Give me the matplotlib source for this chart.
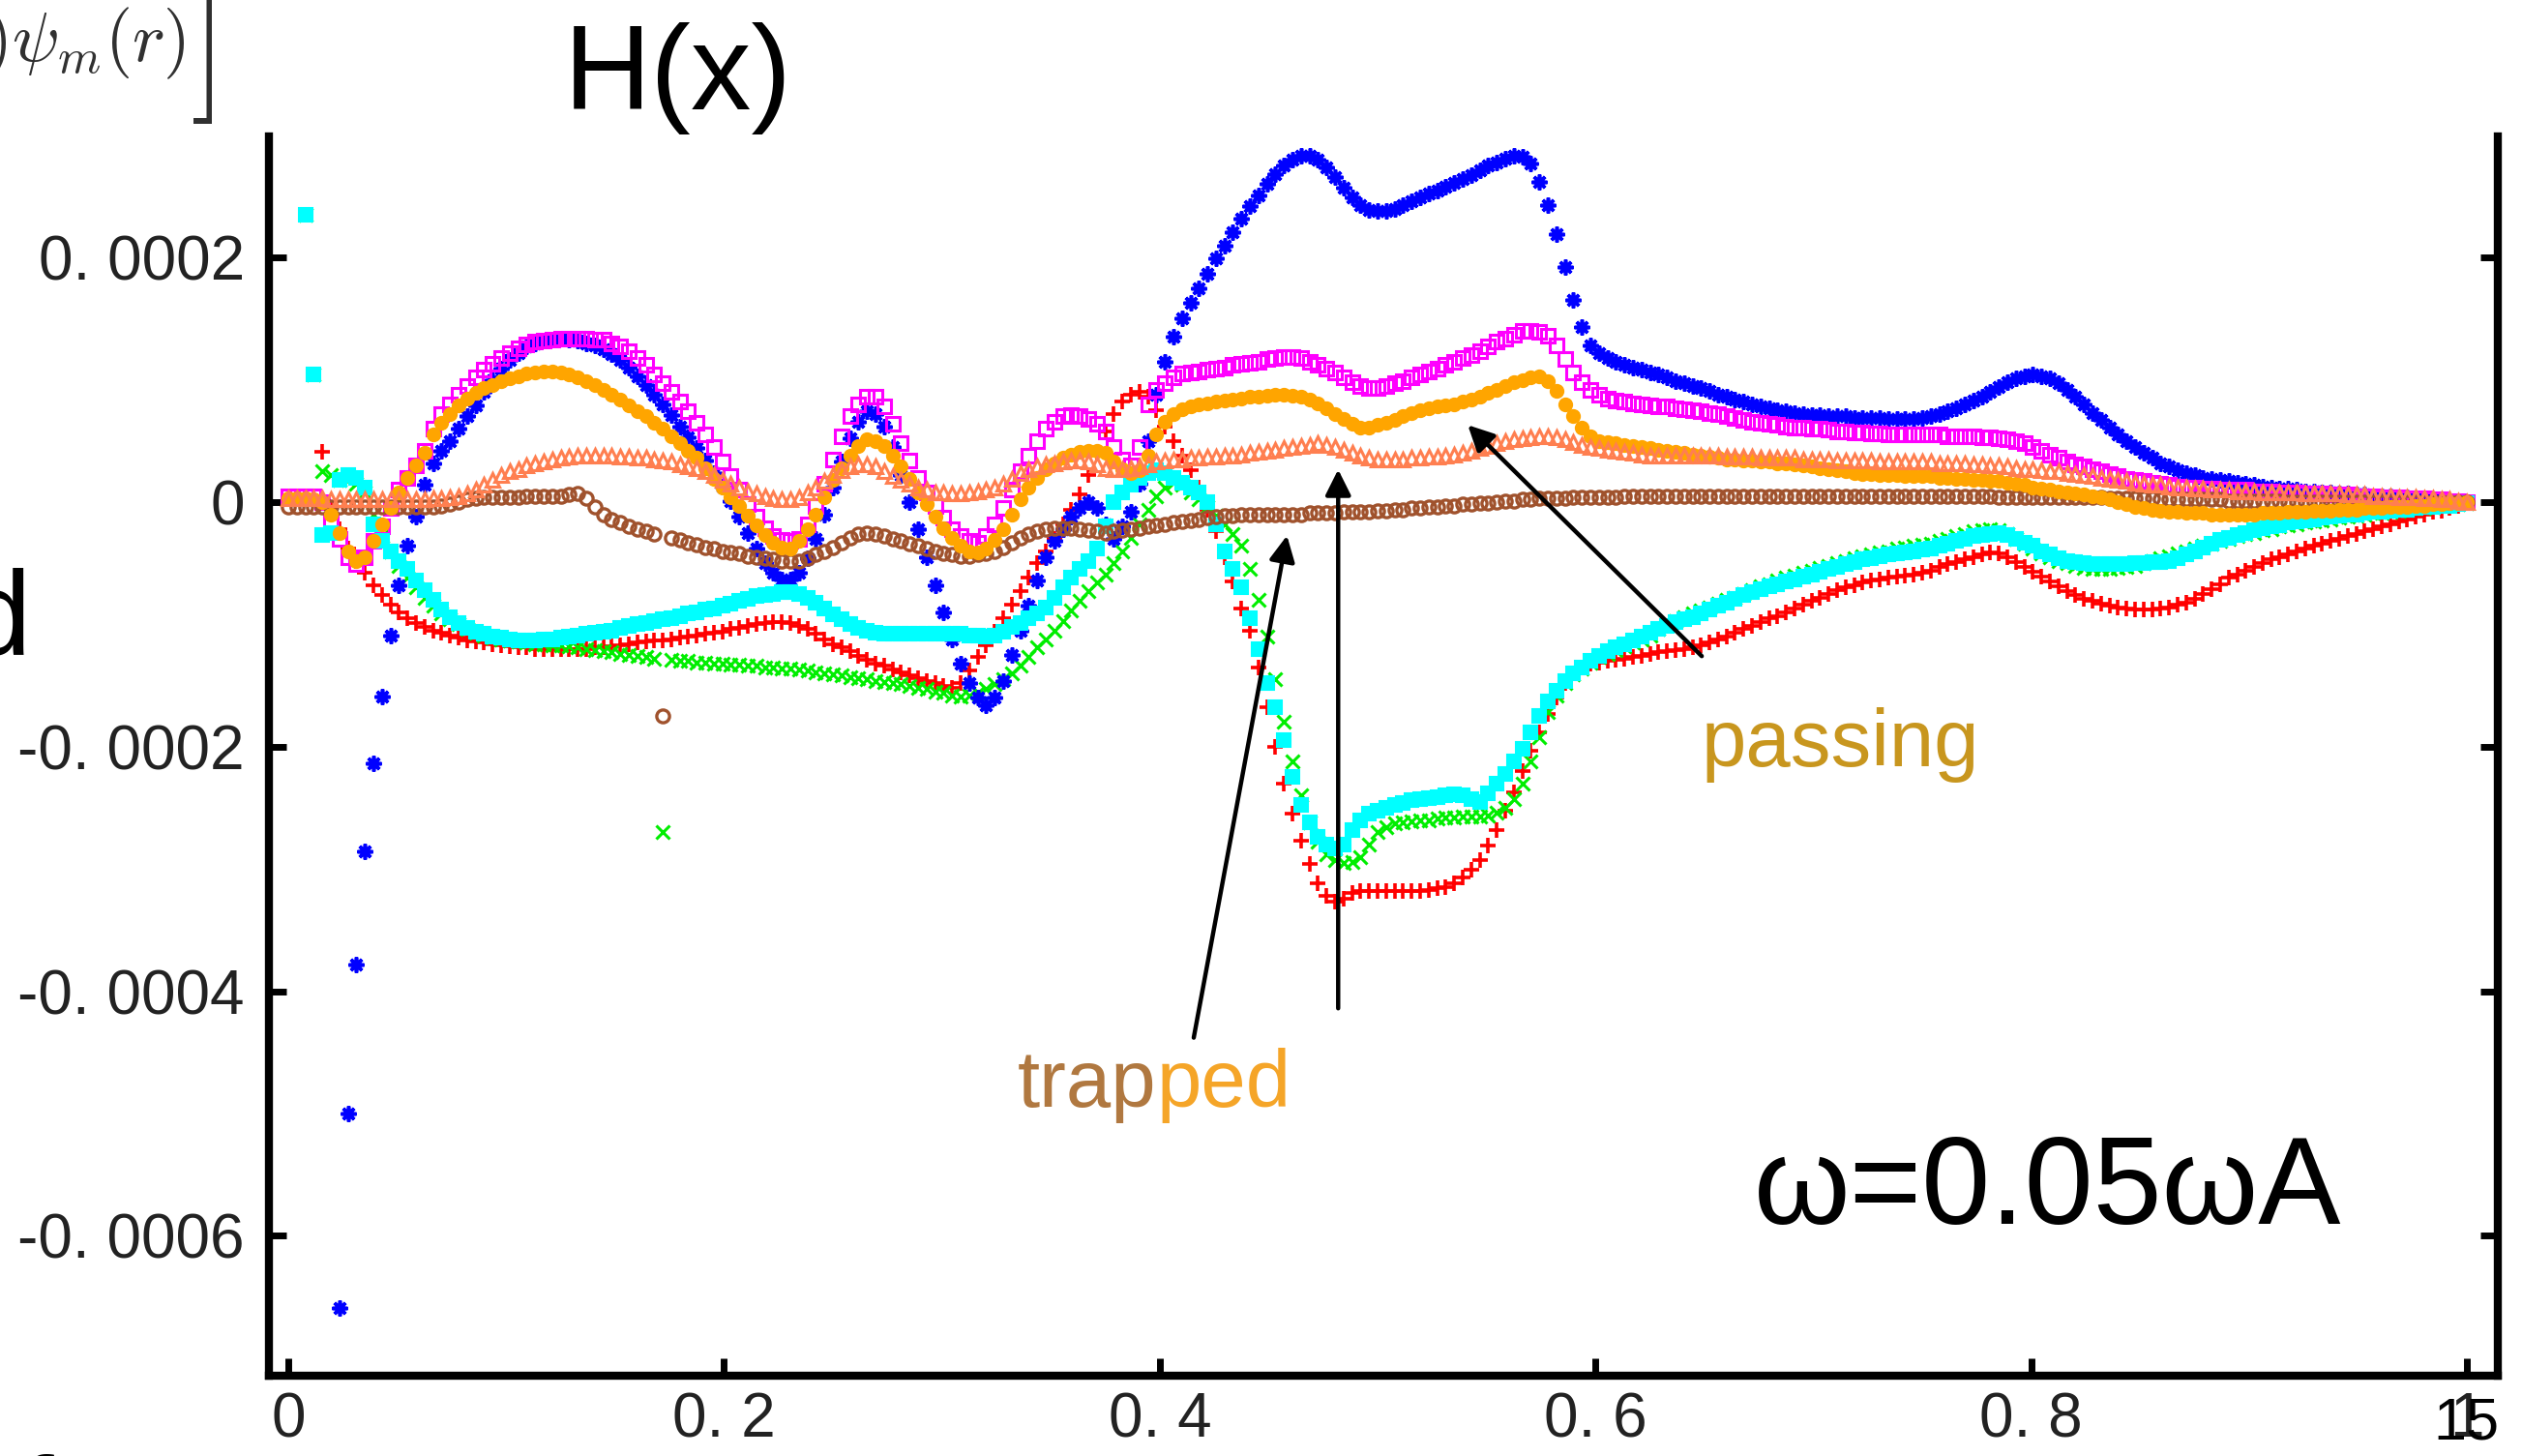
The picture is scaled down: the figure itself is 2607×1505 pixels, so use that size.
import numpy as np
import matplotlib
matplotlib.use("Agg")
import matplotlib.pyplot as plt

plt.rcParams['mathtext.fontset'] = 'cm'

W, H = 2607, 1505

# radial grid of the data file (257 points from 0 to 1)
x_pos = np.arange(257) / 256

# H(x) for each run, in units of 1e-6 (one row = 16 points, first value is x=0)
h_red = [500,
    400, 235, 104, 41, -5, -22, -38, -48, -58, -68, -76, -84, -90, -95, -99, -102,
    -105, -107, -109, -111, -113, -114, -115, -116, -117, -118, -119, -119, -120, -120, -120, -120,
    -120, -120, -120, -119, -119, -118, -117, -116, -115, -114, -113, -113, -112, -111, -110, -109,
    -108, -107, -106, -104, -103, -101, -100, -99, -98, -98, -99, -101, -104, -108, -112, -116,
    -119, -122, -126, -129, -132, -134, -137, -139, -142, -144, -146, -148, -150, -152, -148, -138,
    -127, -117, -106, -95, -84, -73, -62, -50, -40, -30, -18, -6, 6, 22, 40, 58,
    72, 82, 88, 90, 86, 75, 62, 50, 38, 26, 12, -6, -24, -45, -65, -87,
    -105, -135, -168, -200, -230, -255, -277, -296, -312, -322, -327, -324, -320, -318, -318, -318,
    -318, -318, -318, -318, -318, -317, -316, -315, -312, -307, -301, -293, -281, -268, -252, -237,
    -220, -203, -188, -173, -160, -148, -140, -135, -132, -131, -130, -129, -128, -127, -126, -124,
    -123, -122, -121, -120, -119, -117, -115, -112, -110, -107, -104, -101, -98, -95, -93, -90,
    -87, -84, -81, -78, -75, -72, -70, -68, -66, -64, -63, -62, -61, -60, -59, -58,
    -56, -53, -51, -49, -47, -45, -43, -41, -42, -45, -49, -53, -57, -61, -65, -69,
    -73, -76, -79, -81, -83, -85, -86, -87, -88, -88, -88, -87, -86, -84, -82, -79,
    -75, -71, -67, -62, -59, -56, -53, -50, -47, -45, -43, -40, -38, -36, -34, -32,
    -30, -28, -26, -24, -22, -20, -18, -16, -14, -12, -10, -8, -7, -5, -3, -1]

h_green = [500,
    400, 235, 104, 25, 22, 18, 18, 15, 8, -10, -28, -40, -52, -62, -70, -78,
    -85, -91, -96, -100, -104, -107, -109, -111, -112, -113, -114, -115, -116, -116, -117, -117,
    -118, -119, -120, -121, -122, -123, -124, -125, -126, -127, -128, -270, -129, -130, -130, -131,
    -131, -132, -132, -133, -133, -134, -134, -135, -135, -136, -136, -137, -138, -139, -140, -141,
    -142, -143, -144, -145, -146, -147, -148, -149, -150, -152, -153, -155, -156, -158, -159, -158,
    -156, -153, -149, -145, -140, -134, -127, -119, -112, -105, -97, -89, -81, -73, -66, -59,
    -50, -40, -29, -18, -6, 5, 12, 16, 14, 8, 2, -4, -11, -18, -26, -36,
    -55, -80, -110, -145, -180, -212, -240, -262, -278, -288, -293, -295, -294, -290, -280, -270,
    -266, -263, -262, -261, -260, -260, -259, -258, -258, -257, -257, -257, -256, -254, -250, -243,
    -230, -212, -192, -172, -158, -148, -141, -136, -131, -127, -124, -121, -118, -115, -112, -109,
    -104, -100, -97, -94, -91, -89, -86, -83, -80, -78, -75, -72, -69, -67, -64, -62,
    -60, -58, -56, -54, -52, -50, -48, -46, -44, -43, -41, -40, -38, -37, -36, -35,
    -34, -32, -30, -28, -26, -24, -23, -22, -23, -26, -30, -34, -38, -42, -45, -48,
    -50, -52, -54, -55, -55, -55, -54, -53, -52, -50, -48, -46, -44, -42, -40, -38,
    -36, -34, -32, -30, -28, -26, -25, -23, -22, -20, -19, -18, -17, -16, -15, -14,
    -13, -12, -11, -10, -9, -9, -8, -7, -6, -5, -5, -4, -3, -2, -2, -1]

h_blue = [-2000,
    -1600, -1350, -1150, -980, -800, -659, -500, -378, -286, -214, -159, -109, -68, -36, -12, 14,
    32, 42, 50, 60, 70, 79, 90, 100, 109, 116, 122, 127, 130, 132, 133, 134,
    133, 132, 130, 128, 125, 121, 116, 110, 103, 96, 88, 80, 71, 62, 53, 44,
    34, 24, 13, 1, -12, -25, -38, -50, -58, -63, -63, -58, -46, -30, -10, 12,
    33, 52, 66, 74, 72, 62, 45, 22, 0, -22, -45, -68, -90, -112, -132, -148,
    -160, -166, -160, -146, -125, -105, -85, -64, -45, -32, -22, -12, -5, 0, -5, -18,
    -30, -20, -8, 15, 50, 88, 115, 135, 150, 163, 175, 187, 199, 210, 221, 232,
    242, 251, 260, 268, 275, 280, 283, 283, 280, 274, 266, 257, 249, 243, 239, 238,
    238, 240, 243, 246, 249, 252, 255, 258, 261, 264, 267, 271, 275, 278, 281, 283,
    282, 277, 262, 243, 219, 192, 165, 143, 128, 122, 118, 115, 112, 110, 108, 106,
    104, 102, 99, 97, 95, 93, 91, 88, 86, 84, 82, 80, 78, 77, 75, 74,
    73, 72, 71, 71, 70, 70, 70, 69, 69, 69, 69, 68, 68, 68, 68, 69,
    70, 72, 74, 77, 80, 83, 86, 90, 94, 98, 101, 103, 104, 103, 101, 97,
    92, 86, 80, 73, 67, 61, 55, 50, 45, 40, 36, 32, 29, 26, 24, 22,
    20, 19, 18, 17, 16, 15, 14, 13, 12, 11, 11, 10, 9, 9, 8, 8,
    7, 7, 6, 6, 5, 5, 5, 4, 4, 3, 3, 2, 2, 1, 1, 0]

h_magenta = [5,
    5, 5, 5, 0, -15, -30, -45, -51, -45, -32, -20, -5, 10, 20, 30, 42,
    60, 72, 80, 88, 95, 102, 108, 113, 118, 122, 126, 129, 131, 132, 133, 134,
    134, 134, 134, 133, 133, 130, 127, 123, 118, 112, 104, 97, 90, 82, 74, 65,
    55, 45, 33, 21, 10, -2, -12, -21, -28, -31, -32, -30, -18, -3, 15, 35,
    54, 70, 80, 86, 86, 78, 64, 48, 34, 20, 8, -3, -13, -22, -28, -32,
    -33, -28, -18, -5, 10, 25, 38, 50, 60, 66, 70, 71, 70, 68, 64, 58,
    45, 35, 30, 45, 80, 92, 97, 102, 105, 106, 107, 108, 109, 110, 112, 113,
    114, 115, 117, 118, 119, 119, 118, 115, 112, 109, 106, 102, 98, 95, 93, 93,
    95, 97, 99, 102, 104, 107, 109, 112, 115, 118, 120, 123, 127, 131, 134, 137,
    140, 140, 139, 136, 128, 117, 106, 98, 92, 88, 85, 83, 82, 81, 80, 79,
    78, 78, 77, 76, 75, 74, 73, 72, 70, 69, 67, 66, 65, 64, 63, 62,
    61, 61, 60, 60, 59, 58, 58, 57, 57, 56, 56, 55, 55, 55, 55, 55,
    55, 55, 54, 54, 54, 54, 53, 53, 52, 51, 50, 48, 45, 42, 39, 36,
    33, 31, 29, 27, 25, 23, 21, 19, 18, 17, 16, 15, 14, 13, 12, 12,
    11, 11, 10, 10, 10, 10, 9, 9, 9, 8, 8, 8, 7, 7, 7, 6,
    6, 6, 5, 5, 5, 4, 4, 4, 3, 3, 3, 2, 2, 1, 1, 0]

h_cyan = [500,
    400, 235, 104, -27, -25, 18, 22, 20, 12, -18, -32, -40, -48, -55, -64, -72,
    -80, -88, -94, -99, -103, -106, -108, -110, -111, -112, -113, -113, -113, -112, -112, -111,
    -110, -109, -108, -107, -106, -105, -103, -101, -100, -99, -97, -96, -95, -93, -91, -90,
    -88, -87, -85, -83, -81, -79, -77, -76, -75, -74, -74, -75, -78, -82, -87, -92,
    -96, -100, -103, -105, -107, -108, -108, -108, -108, -108, -108, -108, -108, -108, -108, -109,
    -109, -110, -109, -106, -102, -99, -95, -91, -86, -78, -70, -62, -55, -48, -38, -20,
    0, 8, 14, 20, 24, 26, 24, 20, 16, 12, 8, 0, -18, -40, -55, -70,
    -95, -120, -148, -168, -195, -225, -248, -262, -274, -280, -283, -280, -268, -260, -255, -252,
    -250, -248, -246, -244, -243, -242, -241, -240, -239, -240, -243, -245, -238, -230, -222, -212,
    -202, -188, -175, -163, -154, -146, -140, -135, -130, -126, -122, -119, -116, -113, -110, -107,
    -104, -101, -98, -96, -94, -91, -88, -85, -82, -79, -76, -74, -71, -69, -67, -65,
    -63, -61, -59, -57, -55, -53, -51, -49, -47, -46, -44, -43, -42, -41, -40, -39,
    -38, -36, -34, -32, -30, -28, -27, -26, -25, -27, -30, -33, -36, -40, -43, -46,
    -48, -49, -50, -51, -51, -51, -51, -51, -50, -50, -49, -49, -48, -46, -43, -40,
    -37, -34, -31, -29, -27, -25, -23, -21, -20, -19, -17, -16, -15, -14, -13, -12,
    -11, -10, -10, -9, -8, -8, -7, -6, -6, -5, -4, -4, -3, -3, -2, -1]

h_sienna = [-4,
    -4, -4, -4, -4, -4, -4, -4, -4, -4, -4, -4, -4, -4, -4, -4, -4,
    -4, -3, -2, 0, 2, 3, 4, 4, 4, 4, 4, 5, 5, 5, 5, 5,
    6, 7, 3, -4, -10, -14, -17, -20, -22, -24, -26, -175, -29, -31, -33, -35,
    -37, -38, -40, -41, -42, -44, -45, -46, -47, -48, -48, -48, -46, -43, -40, -37,
    -33, -29, -26, -25, -26, -28, -30, -32, -34, -36, -38, -40, -42, -43, -44, -44,
    -43, -42, -40, -37, -33, -29, -26, -24, -22, -21, -21, -21, -22, -23, -24, -25,
    -24, -23, -22, -21, -20, -19, -18, -17, -16, -15, -14, -13, -12, -11, -11, -10,
    -10, -10, -10, -10, -10, -10, -10, -9, -9, -9, -9, -8, -8, -8, -8, -7,
    -7, -6, -6, -5, -5, -4, -4, -3, -3, -2, -2, -1, -1, 0, 1, 1,
    2, 2, 3, 3, 3, 3, 4, 4, 4, 4, 4, 4, 5, 5, 5, 5,
    5, 5, 5, 5, 5, 5, 5, 5, 5, 5, 5, 5, 5, 5, 5, 5,
    5, 5, 5, 5, 5, 5, 5, 5, 5, 5, 5, 5, 5, 5, 5, 5,
    5, 5, 5, 5, 5, 5, 5, 5, 4, 4, 4, 4, 4, 4, 4, 4,
    4, 4, 4, 4, 4, 3, 3, 3, 3, 3, 3, 2, 2, 2, 2, 2,
    2, 2, 2, 1, 1, 1, 1, 1, 1, 1, 0, 0, 0, 0, 0, 0,
    0, 0, 0, 0, 0, 0, 0, 0, 0, 0, 0, 0, 0, 0, 0, 0]

h_orange = [3,
    3, 3, 2, 0, -10, -25, -40, -48, -45, -32, -18, -5, 8, 20, 30, 40,
    55, 65, 72, 79, 85, 89, 93, 96, 99, 101, 103, 105, 106, 107, 107, 106,
    104, 102, 99, 96, 92, 88, 84, 79, 74, 70, 65, 60, 54, 48, 42, 36,
    28, 19, 12, 4, -3, -11, -19, -27, -33, -37, -38, -32, -22, -10, 4, 18,
    28, 38, 46, 51, 50, 46, 38, 29, 19, 8, -2, -12, -21, -29, -36, -40,
    -41, -38, -31, -22, -10, 2, 12, 20, 27, 32, 36, 39, 41, 42, 42, 40,
    33, 27, 24, 26, 38, 55, 66, 72, 76, 78, 80, 81, 82, 83, 84, 85,
    86, 86, 87, 88, 88, 87, 86, 84, 81, 77, 72, 68, 64, 61, 61, 63,
    65, 67, 70, 73, 75, 77, 78, 79, 80, 82, 84, 86, 89, 92, 95, 98,
    100, 102, 103, 99, 91, 80, 70, 61, 54, 50, 49, 48, 47, 46, 45, 44,
    43, 42, 41, 40, 39, 38, 37, 36, 35, 35, 34, 34, 33, 33, 32, 32,
    31, 30, 29, 28, 27, 26, 25, 24, 23, 23, 22, 22, 22, 21, 21, 21,
    21, 20, 20, 19, 19, 18, 18, 17, 17, 16, 15, 14, 12, 11, 10, 9,
    8, 7, 6, 5, 4, 2, 0, -2, -4, -5, -6, -7, -8, -8, -9, -9,
    -9, -10, -10, -10, -10, -10, -10, -9, -9, -9, -8, -8, -8, -7, -7, -7,
    -6, -6, -6, -5, -5, -5, -4, -4, -4, -3, -3, -2, -2, -1, -1, 0]

h_coral = [3,
    3, 3, 3, 3, 2, 2, 2, 2, 2, 2, 2, 2, 2, 2, 2, 2,
    3, 3, 4, 5, 7, 10, 14, 18, 22, 25, 27, 30, 32, 33, 35, 36,
    37, 38, 38, 38, 38, 38, 37, 37, 36, 36, 35, 34, 33, 31, 29, 28,
    25, 22, 18, 15, 12, 9, 7, 5, 3, 2, 2, 4, 8, 12, 17, 22,
    26, 29, 31, 31, 29, 25, 21, 18, 15, 12, 10, 8, 8, 7, 7, 8,
    9, 10, 12, 15, 19, 24, 27, 29, 31, 32, 33, 34, 34, 33, 31, 28,
    27, 27, 28, 29, 31, 33, 34, 35, 35, 36, 36, 37, 37, 38, 38, 39,
    40, 41, 42, 43, 44, 45, 46, 47, 48, 47, 45, 43, 40, 38, 36, 35,
    35, 35, 35, 36, 36, 37, 37, 38, 39, 40, 42, 44, 46, 48, 50, 51,
    52, 53, 54, 54, 53, 51, 49, 47, 45, 44, 43, 42, 41, 40, 39, 38,
    38, 38, 38, 38, 38, 38, 38, 38, 37, 37, 37, 37, 36, 36, 36, 36,
    36, 35, 35, 35, 35, 34, 34, 34, 34, 34, 33, 33, 33, 33, 33, 33,
    33, 32, 32, 32, 32, 31, 31, 30, 30, 29, 28, 27, 27, 26, 25, 25,
    24, 23, 22, 21, 20, 19, 18, 17, 16, 15, 14, 14, 13, 12, 12, 11,
    11, 10, 10, 10, 9, 9, 9, 8, 8, 8, 8, 8, 7, 7, 7, 7,
    7, 6, 6, 6, 5, 5, 5, 4, 4, 4, 3, 3, 2, 2, 1, 0]

y_ticks = [0.0002, 0, -0.0002, -0.0004, -0.0006]
y_ticklabels = ['0. 0002', '0', '-0. 0002', '-0. 0004', '-0. 0006']
x_ticks = [0, 0.2, 0.4, 0.6, 0.8, 1.0]
x_ticklabels = ['0', '0. 2', '0. 4', '0. 6', '0. 8', '1']

# gnuplot style: colour, marker, size, edge width, filled
series = [
    (h_red, '#ff0000', '+', 12, 2.6, False),
    (h_green, '#00ee00', 'x', 9.5, 2.2, False),
    (h_blue, '#0000ff', (8, 2, 0), 11.5, 2.6, False),
    (h_magenta, '#ff00ff', 's', 10, 2.2, False),
    (h_cyan, '#00ffff', 's', 10.5, 1.5, True),
    (h_sienna, '#a0522d', 'o', 9.5, 2.4, False),
    (h_orange, '#ffa500', 'o', 9.5, 1.5, True),
    (h_coral, '#ff7f50', '^', 10, 2.2, False),
]

SANS = ['Liberation Sans', 'DejaVu Sans']


def fx(px):
    return px / W


def fy(py):
    return 1 - py / H


fig = plt.figure(figsize=(W / 100, H / 100), dpi=100)
ax = fig.add_axes([fx(278), fy(1421.5), fx(2582) - fx(278), fy(141) - fy(1421.5)])

for vals, col, mk, ms, mw, filled in series:
    y = np.array(vals) * 1e-6
    ax.plot(x_pos, y, ls='none', marker=mk, ms=ms, mew=mw,
            mec=col, mfc=col if filled else 'none')

ax.set_xlim(-0.0089, 1.0142)
ax.set_ylim(-0.000714, 0.000299)
ax.spines['top'].set_visible(False)
for s in ['left', 'right', 'bottom']:
    ax.spines[s].set_linewidth(6)
ax.set_xticks(x_ticks)
ax.set_xticklabels(x_ticklabels)
ax.set_yticks(y_ticks)
ax.set_yticklabels(y_ticklabels)
ax.tick_params(axis='both', direction='in', length=13, width=5, labelsize=46)
ax.tick_params(axis='y', right=True, pad=18)
ax.tick_params(axis='x', top=False, pad=12)
for lbl in ax.get_xticklabels() + ax.get_yticklabels():
    lbl.set_family(SANS)
    lbl.set_color('#222222')

# arrows pointing at the trapped / passing curves
arrow = dict(arrowstyle='-|>', color='black', lw=3.2, mutation_scale=40, shrinkA=0, shrinkB=0)
ax.annotate('', xy=(0.4584, -0.0000274), xytext=(0.4156, -0.000438), arrowprops=arrow)
ax.annotate('', xy=(0.4819, 0.0000266), xytext=(0.4819, -0.000414), arrowprops=arrow)
ax.annotate('', xy=(0.5414, 0.000063), xytext=(0.6488, -0.000126), arrowprops=arrow)

# slide annotations
fig.text(fx(192), fy(63), r'$)\psi_m(r)$', fontsize=52, color='#303030',
         ha='right', va='baseline')
fig.text(fx(196), fy(93), r'$]$', fontsize=100, color='#303030',
         ha='left', va='baseline')
fig.text(fx(583), fy(113), 'H(x)', fontsize=90, family=SANS, ha='left', va='baseline')
fig.text(fx(32), fy(677), 'd', fontsize=90, family=SANS, ha='right', va='baseline')
fig.text(fx(20), fy(1592), 'f', fontsize=90, family=SANS, ha='left', va='baseline')
fig.text(fx(1759), fy(792), 'passing', fontsize=60, family=SANS, color='#c8961e',
         ha='left', va='baseline')
t_trap = fig.text(fx(1052), fy(1144), 'trap', fontsize=60, family=SANS, color='#b07840',
                  ha='left', va='baseline')
ax.annotate('ped', xy=(1, 0), xycoords=t_trap, fontsize=60, family=SANS, color='#f5a528',
            ha='left', va='bottom')
fig.text(fx(1813), fy(1265), 'ω=0.05ωA', fontsize=92, family=SANS, ha='left', va='baseline')
fig.text(fx(2584), fy(1487), '15', fontsize=44, family=SANS, ha='right', va='baseline')

fig.savefig('out.png', dpi=100)
